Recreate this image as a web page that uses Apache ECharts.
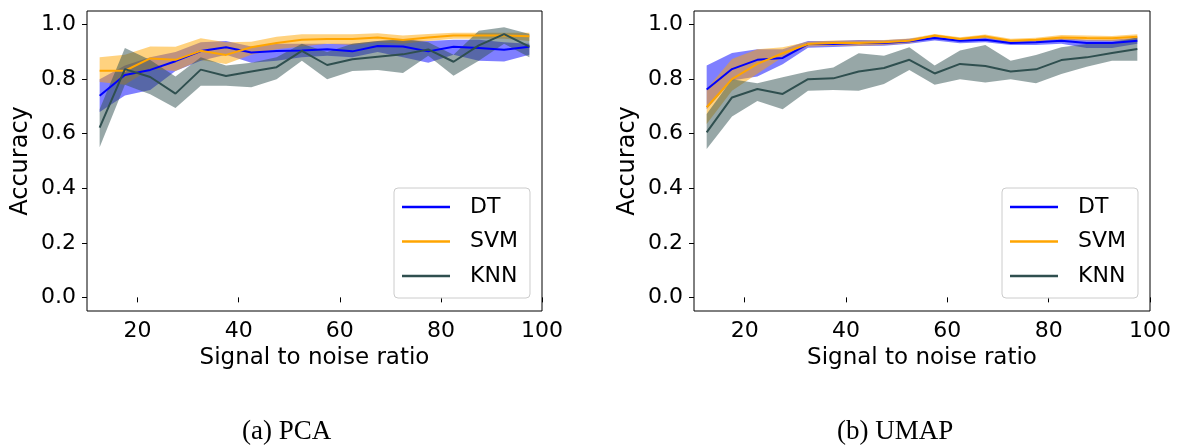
<!DOCTYPE html>
<html>
<head>
<meta charset="utf-8">
<script src="https://cdn.jsdelivr.net/npm/echarts@6/dist/echarts.min.js"></script>
<style>
  html, body { margin: 0; padding: 0; background: #fff; }
  #chart { width: 1183px; height: 448px; }
</style>
</head>
<body>
<div id="chart"></div>
<script>
// ---------- data ----------
const snr = [12.5, 17.5, 22.5, 27.5, 32.5, 37.5, 42.5, 47.5, 52.5, 57.5, 62.5, 67.5, 72.5, 77.5, 82.5, 87.5, 92.5, 97.5];
const xTicks = [20, 40, 60, 80, 100];
const yTicks = [0, 0.2, 0.4, 0.6, 0.8, 1.0];
const models = ['DT', 'SVM', 'KNN'];
const captions = ['(a) PCA', '(b) UMAP'];
const xTitle = 'Signal to noise ratio';
const yTitle = 'Accuracy';

// PCA
const pcaDtMean  = [0.739, 0.815, 0.834, 0.866, 0.903, 0.917, 0.898, 0.903, 0.905, 0.910, 0.902, 0.922, 0.920, 0.902, 0.919, 0.914, 0.908, 0.919];
const pcaDtLow   = [0.680, 0.740, 0.760, 0.830, 0.868, 0.890, 0.860, 0.868, 0.880, 0.886, 0.880, 0.900, 0.880, 0.860, 0.890, 0.868, 0.865, 0.890];
const pcaDtHigh  = [0.800, 0.850, 0.880, 0.900, 0.935, 0.940, 0.920, 0.930, 0.930, 0.930, 0.930, 0.940, 0.945, 0.940, 0.945, 0.945, 0.935, 0.930];
const pcaSvmMean = [0.831, 0.831, 0.876, 0.871, 0.904, 0.889, 0.917, 0.933, 0.945, 0.947, 0.947, 0.953, 0.944, 0.953, 0.960, 0.960, 0.960, 0.957];
const pcaSvmLow  = [0.790, 0.780, 0.837, 0.830, 0.870, 0.856, 0.890, 0.910, 0.920, 0.930, 0.925, 0.935, 0.930, 0.940, 0.948, 0.948, 0.948, 0.940];
const pcaSvmHigh = [0.880, 0.890, 0.920, 0.919, 0.950, 0.935, 0.937, 0.956, 0.965, 0.965, 0.965, 0.968, 0.960, 0.966, 0.970, 0.970, 0.970, 0.970];
const pcaKnnMean = [0.622, 0.837, 0.808, 0.747, 0.835, 0.812, 0.828, 0.844, 0.904, 0.852, 0.873, 0.882, 0.891, 0.909, 0.864, 0.924, 0.965, 0.919];
const pcaKnnLow  = [0.550, 0.780, 0.745, 0.694, 0.776, 0.776, 0.770, 0.800, 0.868, 0.800, 0.830, 0.834, 0.823, 0.886, 0.813, 0.868, 0.930, 0.880];
const pcaKnnHigh = [0.690, 0.914, 0.870, 0.810, 0.880, 0.850, 0.860, 0.880, 0.930, 0.900, 0.930, 0.940, 0.947, 0.935, 0.890, 0.978, 0.990, 0.966];

// UMAP
const umapDtMean  = [0.762, 0.837, 0.871, 0.878, 0.929, 0.929, 0.933, 0.933, 0.939, 0.951, 0.941, 0.945, 0.933, 0.935, 0.941, 0.933, 0.933, 0.941];
const umapDtLow   = [0.690, 0.795, 0.810, 0.855, 0.915, 0.918, 0.922, 0.923, 0.930, 0.942, 0.932, 0.935, 0.925, 0.925, 0.930, 0.914, 0.914, 0.930];
const umapDtHigh  = [0.850, 0.896, 0.910, 0.910, 0.940, 0.940, 0.944, 0.943, 0.948, 0.960, 0.950, 0.955, 0.942, 0.945, 0.950, 0.945, 0.945, 0.952];
const umapSvmMean = [0.697, 0.800, 0.856, 0.895, 0.929, 0.933, 0.933, 0.935, 0.941, 0.960, 0.947, 0.957, 0.941, 0.945, 0.953, 0.951, 0.950, 0.956];
const umapSvmLow  = [0.636, 0.758, 0.820, 0.880, 0.920, 0.923, 0.923, 0.925, 0.932, 0.952, 0.940, 0.950, 0.934, 0.938, 0.945, 0.942, 0.940, 0.946];
const umapSvmHigh = [0.764, 0.874, 0.910, 0.917, 0.937, 0.942, 0.942, 0.944, 0.949, 0.966, 0.954, 0.964, 0.948, 0.952, 0.962, 0.960, 0.958, 0.965];
const umapKnnMean = [0.605, 0.733, 0.764, 0.746, 0.800, 0.803, 0.828, 0.841, 0.871, 0.821, 0.856, 0.848, 0.828, 0.836, 0.870, 0.880, 0.896, 0.911];
const umapKnnLow  = [0.544, 0.663, 0.720, 0.690, 0.758, 0.760, 0.758, 0.782, 0.834, 0.780, 0.800, 0.788, 0.800, 0.785, 0.819, 0.846, 0.868, 0.868];
const umapKnnHigh = [0.672, 0.800, 0.785, 0.807, 0.828, 0.843, 0.895, 0.886, 0.917, 0.850, 0.905, 0.925, 0.868, 0.889, 0.917, 0.929, 0.935, 0.953];

// ---------- styling ----------
const lineColors = { DT: '#0000ff', SVM: '#ffa500', KNN: '#2f4f4f' };
const bandColors = { DT: 'rgba(0,0,255,0.5)', SVM: 'rgba(255,165,0,0.5)', KNN: 'rgba(47,79,79,0.5)' };
const FONT = 'DejaVu Sans';

const panels = [
  { mean: { DT: pcaDtMean, SVM: pcaSvmMean, KNN: pcaKnnMean },
    low:  { DT: pcaDtLow,  SVM: pcaSvmLow,  KNN: pcaKnnLow },
    high: { DT: pcaDtHigh, SVM: pcaSvmHigh, KNN: pcaKnnHigh } },
  { mean: { DT: umapDtMean, SVM: umapSvmMean, KNN: umapKnnMean },
    low:  { DT: umapDtLow,  SVM: umapSvmLow,  KNN: umapKnnLow },
    high: { DT: umapDtHigh, SVM: umapSvmHigh, KNN: umapKnnHigh } }
];

const grids = [
  { left: 87, width: 455, top: 11, height: 300 },
  { left: 694, width: 456, top: 11, height: 300 }
];
const legendPos = [ { left: 394, top: 188 }, { left: 1002, top: 188 } ];
const captionPos = [ { left: 242, top: 418 }, { left: 837, top: 418 } ];

const xAxes = [], yAxes = [], series = [], legends = [], titles = [];

grids.forEach((g, gi) => {
  xAxes.push({
    type: 'value', gridIndex: gi, min: 10, max: 100,
    name: xTitle, nameLocation: 'middle', nameGap: 34,
    nameTextStyle: { fontFamily: FONT, fontSize: 23, color: '#000' },
    axisLine: { show: false },
    axisTick: { show: true, length: 5, lineStyle: { color: '#000', width: 1 }, customValues: xTicks },
    axisLabel: { fontFamily: FONT, fontSize: 22, color: '#000', margin: 9, customValues: xTicks, showMaxLabel: true },
    splitLine: { show: false }
  });
  yAxes.push({
    type: 'value', gridIndex: gi, min: -0.05, max: 1.05,
    name: yTitle, nameLocation: 'middle', nameGap: 54,
    nameTextStyle: { fontFamily: FONT, fontSize: 24, color: '#000' },
    axisLine: { show: false },
    axisTick: { show: true, length: 5, lineStyle: { color: '#000', width: 1 }, customValues: yTicks },
    axisLabel: { fontFamily: FONT, fontSize: 22, color: '#000', margin: 11, customValues: yTicks,
                 formatter: v => Number(v).toFixed(1) },
    splitLine: { show: false }
  });

  const p = panels[gi];
  // bands first (drawn beneath lines)
  models.forEach(m => {
    const lo = p.low[m], hi = p.high[m];
    series.push({
      type: 'custom', name: m + ' band', xAxisIndex: gi, yAxisIndex: gi,
      silent: true, z: 1, clip: true,
      data: snr.map((x, i) => [x, lo[i], hi[i]]),
      encode: { x: 0, y: [1, 2] },
      renderItem: (params, api) => {
        if (params.dataIndex !== 0) return null;
        const pts = [];
        for (let i = 0; i < snr.length; i++) pts.push(api.coord([snr[i], hi[i]]));
        for (let i = snr.length - 1; i >= 0; i--) pts.push(api.coord([snr[i], lo[i]]));
        return { type: 'polygon', shape: { points: pts }, style: { fill: bandColors[m], stroke: null } };
      }
    });
  });
  models.forEach(m => {
    series.push({
      type: 'line', name: m, xAxisIndex: gi, yAxisIndex: gi,
      data: snr.map((x, i) => [x, p.mean[m][i]]),
      symbol: 'none', z: 3, color: lineColors[m],
      lineStyle: { color: lineColors[m], width: 2 },
      emphasis: { disabled: true }
    });
  });

  legends.push({
    orient: 'vertical', left: legendPos[gi].left, top: legendPos[gi].top,
    data: models, icon: 'rect', itemWidth: 48, itemHeight: 2.5, itemGap: 10.5,
    padding: [7, 12, 10, 8],
    backgroundColor: 'rgba(255,255,255,0.8)', borderColor: '#cccccc', borderWidth: 1, borderRadius: 4,
    textStyle: { fontFamily: FONT, fontSize: 22, color: '#000', lineHeight: 24, padding: [0, 0, 0, 15] },
    selectedMode: false
  });

  titles.push({
    text: captions[gi], left: captionPos[gi].left, top: captionPos[gi].top, padding: 0,
    textStyle: { fontFamily: 'Liberation Serif', fontSize: 27, fontWeight: 'normal', color: '#000' }
  });
});

const chart = echarts.init(document.getElementById('chart'), null, { renderer: 'canvas' });
chart.setOption({
  animation: false,
  backgroundColor: '#ffffff',
  title: titles,
  grid: grids.map(g => Object.assign({ show: true, borderColor: '#000', borderWidth: 1, backgroundColor: 'transparent' }, g)),
  xAxis: xAxes,
  yAxis: yAxes,
  legend: legends,
  series: series
});
</script>
</body>
</html>
